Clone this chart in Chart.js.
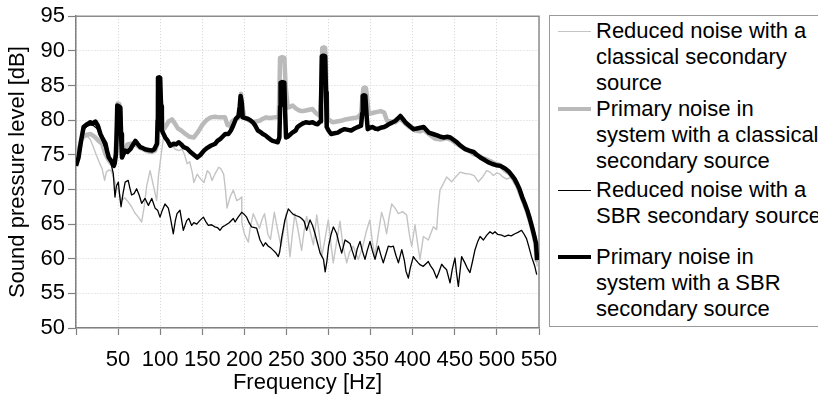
<!DOCTYPE html>
<html>
<head>
<meta charset="utf-8">
<script src="https://cdn.jsdelivr.net/npm/chart.js@4.4.1/dist/chart.umd.min.js"></script>
<style>
  html, body { margin: 0; padding: 0; background: #fff; overflow: hidden; }
  #wrap { position: relative; width: 818px; height: 401px; overflow: hidden; }
  #c { position: absolute; left: 0; top: 0; }
  #legend { position: absolute; left: 549px; top: 15px; width: 300px; height: 312px;
            border: 1px solid #9a9a9a; box-sizing: border-box; background: #fff;
            font-family: "Liberation Sans", Arial, sans-serif; font-size: 22px; color: #000; }
  .entry { position: absolute; left: 0; }
  .swatch { position: absolute; left: 8px; width: 33px; }
  .txt { position: absolute; left: 46px; white-space: nowrap; line-height: 26px; }
</style>
</head>
<body>
<div id="wrap">
  <canvas id="c" width="818" height="401"></canvas>
  <div id="legend"></div>
</div>
<script>
// ---- Data (frequency [Hz], level [dB]) ----
const seriesNames = [
  ["Reduced noise with a", "classical secondary", "source"],
  ["Primary noise in", "system with a classical", "secondary source"],
  ["Reduced noise with a", "SBR secondary source"],
  ["Primary noise in", "system with a SBR", "secondary source"]
];

const xTicks = [0, 50, 100, 150, 200, 250, 300, 350, 400, 450, 500, 550];
const yTicks = [50, 55, 60, 65, 70, 75, 80, 85, 90, 95];

const reducedClassical = [
[0,73.7],[3,75.5],[6,77],[10,77.6],[14,77.6],[17,77.2],[20,76.3],[24,75],[28,73.8],[31,73],[34,71.3],[36,72.5],[39,72.8],[42,72.7],[45,71.5],[48,70.5],[50.3,69.9],[54.3,68.4],[58,68.8],[62,68.2],[66,67.5],[70,66.6],[74,66],[78,65.3],[81,67.5],[84,70.5],[88,72.7],[92,70.5],[95.8,68.4],[98,72],[101.8,75.6],[104,77.5],[107,77.2],[110,76.8],[114,76.3],[118,75.8],[122,75.6],[126,75.8],[129,75],[132,73.7],[135,74],[138,72.5],[140,71],[144,72.2],[148,71.5],[152,71],[156,72.7],[159,72.3],[161.6,71.3],[165,72.2],[169.5,73.2],[172,73],[175.4,72.2],[177.5,70],[179.4,67.3],[183,68.9],[186.9,69.9],[190.9,68.4],[194,68.6],[196.8,68.9],[197,65.2],[200,63.6],[204.7,62.4],[207,64.5],[210.6,66.5],[214,65.5],[218,64.4],[221,65.7],[224,66.5],[228,63.5],[231,62.8],[235.6,66.7],[239,64.5],[243.5,61.8],[246,63.5],[249.5,66.5],[252,63],[254.2,60.3],[257,63.5],[260,66.5],[264,64],[268,61.2],[271,64],[274,66.1],[278,64],[282,62],[286,66.3],[289,63.5],[292,60.3],[296,63],[299.7,65.6],[303,62],[305.6,59.4],[309,62],[313.6,65.4],[317,62],[321.6,59.4],[325,61],[329.4,61.8],[335.3,59.9],[340,61.5],[345,64],[349,65.6],[352,62.5],[355,60.3],[359,63.5],[363,66.7],[366,65.5],[369,63.6],[372,66],[375,67.9],[379,67.3],[383,66.5],[388,66.8],[392.8,66.3],[396,63.5],[398.8,61.8],[402.7,64.9],[406,62],[408.6,59.9],[412.6,63.2],[418.5,62.7],[424.5,64.6],[428.4,64.2],[430,67],[432.4,69.9],[436.3,70.8],[440.3,71.8],[446.2,71.1],[451,71.8],[456.2,72.5],[462,72.3],[468,72.2],[473,72],[478,71.1],[483,71.8],[487.9,72.7],[492,72.5],[495.8,72],[500,72.4],[503.7,72.2],[507,71.8],[511.6,71.5],[516,71.7],[520,71.2],[524,70.5],[530,68.8],[536,66.9],[541.7,64.5],[545,60.5],[547,59.8],[548,58.9]
];

const primaryClassical = [
[0,73.6],[3,75.5],[6,77],[9,77.7],[13,77.9],[17,78],[20,77.8],[23,77.5],[27,77],[31,76.6],[35,75.1],[39,74.2],[42,73.7],[45,73.5],[47,75],[48.5,79],[49.5,82.4],[51.5,82.3],[53,80],[54.6,75],[58,75.8],[61,76.5],[65,76.6],[68,76.5],[72,76.4],[76,76],[80,75.8],[85,75.5],[90,75.4],[94,75.6],[96.5,76.5],[97.5,84],[100,84.3],[101.5,82],[103,78.5],[106,79],[110,79.8],[114,80.1],[117,79.6],[121,78.8],[125,78.5],[130,78],[135,77.6],[140,77.5],[145,78.3],[150,79.3],[155,80],[160,80.4],[165,80.5],[170,80.4],[177,80.4],[180,79.3],[183,79.2],[186,79.9],[190,80.2],[194,80.4],[195,82],[196,83.8],[197.5,82],[200,80.4],[205,80],[210,79.7],[214,79.8],[218,79.9],[222,80.2],[226,80.4],[230,80.3],[235.6,80.4],[240.8,80.4],[241.8,85],[242.4,89],[245,89.1],[247.5,89],[249,85],[251.5,81.8],[254,81.9],[257.4,82.1],[261,81.7],[265.3,81.4],[269,81.3],[273,81.4],[277,81.5],[281,81.6],[285,81],[290,80.6],[291.5,84],[292.5,90.4],[294.5,90.5],[296,90.4],[297.5,85],[299,80.2],[302,79.9],[305,79.7],[310,79.8],[315,79.9],[320,80.1],[325,80.2],[330,80.3],[334.6,80.4],[338.6,80.9],[340,83],[341.4,84.6],[343,84.7],[344.5,84.6],[346,83],[347.7,80.9],[351,81],[354.4,81.1],[358,81.2],[362,81.3],[366,81.1],[369.5,79.9],[374,79.8],[379.3,79.7],[384,80.2],[388,79.9],[391,79.5],[396,79],[403,78.5],[409,78.4],[413,78.6],[419,78],[427,77.3],[433,77.2],[440,77.4],[445,77.2],[452,76.6],[457,76.2],[462.5,75.8],[467,75.6],[472,75.1],[478,74.9],[483,74.5],[486,74.4],[492,74.1],[498,73.7],[504,73.5],[510,72.7],[515,72.3],[518,71.8],[524,70.6],[530,68.7],[536,66.8],[541.7,64.4],[546.5,62],[547.7,59.5]
];

const reducedSBR = [
[0,73.4],[3,74.5],[6,76.8],[9,78.6],[13,79.1],[17,79.3],[21,79.2],[25,78.8],[29,77.8],[33,76.4],[37,75.2],[40,74.2],[42,73.5],[44.3,72.3],[46.3,68.9],[48,70.5],[50.3,71.05],[52,69],[53.5,67.5],[56,69.5],[58.4,71.05],[62,71.3],[64,70.2],[66,69.2],[69,69.4],[72,70.1],[75,69.2],[78,68],[82,68.7],[86,67.7],[90,68.7],[94,67.3],[97,67],[99.8,66],[102,66.8],[105.7,67.9],[109.7,67.3],[112,66],[115.6,63.6],[118,65.5],[120,66.5],[123.5,67],[127.5,64.1],[131.5,65.5],[134,65.8],[137.4,64.8],[140,65.2],[143.4,65],[147,65.5],[151.3,66],[154,65.4],[157.2,64.8],[161,64.9],[165,64.6],[168,64.5],[171,64.1],[174,64.6],[177,64.8],[182,65.2],[186.9,65.8],[189,65.3],[192,65.9],[196.8,66.7],[199,66.5],[202.7,66],[205.6,65.2],[208.6,64.6],[214.6,64.4],[218.6,62.7],[222.5,61.8],[225,62.3],[228.5,61.8],[231,61.6],[234.4,61.2],[237,60.9],[240.3,60.3],[242,61],[244.3,63],[248,65.5],[252.2,67.2],[255,66.8],[258,66.4],[262,66.2],[266,66],[268,65.8],[271,65.4],[274,64.1],[278,65.6],[281,64.8],[284,63.6],[287,62.2],[290,60.8],[294,59.9],[296,58.1],[298,59.6],[300,61.8],[303,63.5],[305.7,64.6],[309.7,63.6],[312,62.4],[315.6,60.8],[319.6,62.7],[322,62.5],[325.5,62.2],[328,61.2],[331.5,59.9],[334,61.4],[337.4,62.5],[340,61.2],[343.3,59.9],[346,61.2],[349.3,62.5],[352,61.2],[355.2,59.9],[359.2,61.8],[362,60.6],[365,59.4],[368,60.6],[371,61.8],[374,61.7],[377,61.8],[380,60.5],[383,59.4],[387,61.3],[390,59.8],[392,58.2],[394.8,57.2],[397,58.6],[400.7,60.3],[403,59.9],[406.6,59.4],[409,59.1],[412.6,58.9],[418.5,59.6],[421,59],[424.5,58.4],[428.4,57.2],[431,58],[434.4,59.2],[437,58.8],[440.3,58.4],[444.3,56.5],[447,58.5],[450.2,60.1],[452,58],[454.2,56],[456,58],[458.1,60.3],[462,59.4],[465,58.6],[468,58],[471,59.6],[474,61.3],[477,62.4],[480,63.2],[484,62.7],[488,63.4],[491.8,63.9],[495,63.6],[497.7,63.9],[501,63.5],[505.6,63.4],[509,63.2],[513.5,63.4],[517,63.3],[521.4,63.6],[525,63.8],[529.3,64.1],[532,63.6],[535.2,62.9],[538,61.7],[541.1,60.3],[545,58.9],[547.3,57.7]
];

const primarySBR = [
[0,73.4],[3,74.6],[6,77],[9,79],[13,79.4],[17,79.7],[20,79.5],[23,79.8],[26,79.2],[29,78],[31,77.5],[35,76.6],[37,75.5],[39,74.6],[43,73.9],[45,73.4],[46,73.8],[47.5,75.1],[48.5,79],[49,82.1],[51,82],[52.7,81.8],[53.5,78],[54.6,74.6],[56,75],[58.6,75.6],[61,75.4],[64.5,75.8],[67,76.3],[70.5,77],[73,76.6],[76.4,76.1],[79,76],[82,75.8],[86,75.7],[90.3,75.6],[93,75.8],[96.2,76.6],[97,80],[97.4,86.1],[99,86.2],[100,86.1],[101,82],[102,78.5],[104,78],[106,77.5],[109,77],[112,76.3],[116,76.6],[119,76.5],[122,76.8],[125,76.5],[128,76.1],[132,75.9],[136,75.4],[140,75],[144,74.6],[148,75],[152,75.6],[156,76],[160,76.3],[165.5,76.6],[168,77],[171.5,77.3],[174,77.6],[177.4,78],[181,78],[184,78.5],[187,79.3],[190,80.2],[193,80.6],[194.5,82],[195.5,83.5],[197,82.5],[198,80.4],[201,80.3],[204,80.2],[207,80],[210,79.7],[213,79.2],[216,78.5],[219,78.3],[222,78],[225,77.8],[228,77.5],[231,77.2],[233.6,77],[237,76.9],[239.6,76.8],[241.6,77.5],[242.5,82],[243,85.4],[245,85.5],[247.5,85.4],[248.5,81],[249.5,77.5],[251.5,77.6],[253.4,77.8],[257,78.2],[261,78.5],[263,79],[265.3,79.2],[269,79.5],[273,79.7],[277,79.6],[281,79.7],[284,79.5],[287,79.4],[290,79.8],[291,82],[292,89.2],[294,89.3],[296,89.2],[297,84],[297.8,79],[300,78.5],[303,78],[307,78.1],[311,78.2],[315,78.5],[319,78.7],[323,78.6],[327,78.5],[331,78.8],[334.6,79],[338.6,79.2],[340,81],[340.6,83.5],[342,83.6],[343.7,83.5],[345,81],[346.5,78.7],[349,78.9],[352.5,79],[355,78.8],[358.4,78.7],[362,78.9],[366,79],[369,79.2],[371.4,79.4],[375,79.6],[379.3,79.9],[382,80.2],[385.3,80.6],[388,80.2],[391.2,79.7],[396,79.2],[401,78.7],[405,78.8],[409,78.9],[413,79],[416,78.6],[419,78.2],[424,78],[429,77.8],[433,77.6],[437,77.5],[441,77.6],[444.7,77.5],[448,77.2],[452.6,76.8],[457,76.3],[462.5,75.8],[467,75.6],[472.4,75.4],[476,75],[480.3,74.6],[486,74.2],[490,73.9],[494,73.7],[499,73.5],[504,73.4],[507,73.2],[510,73],[514,72.6],[518,72],[521,71.5],[524,70.8],[527,70],[530,68.9],[533,68],[536,67],[539,65.8],[541.7,64.6],[544,63.5],[546.5,62.2],[547.7,59.8]
];

// ---- Styles ----
const styles = [
  { color: '#c4c4c4', width: 1.4, order: 3 },
  { color: '#bababa', width: 4.5, order: 2 },
  { color: '#000000', width: 1.3, order: 1 },
  { color: '#000000', width: 4.5, order: 0 }
];
const allSeries = [reducedClassical, primaryClassical, reducedSBR, primarySBR];

const FONT = '"Liberation Sans", Arial, sans-serif';

const frameBorder = {
  id: 'frameBorder',
  beforeDatasetsDraw(chart) {
    const { ctx, chartArea: { left, top, right, bottom } } = chart;
    ctx.save();
    ctx.strokeStyle = '#8c8c8c';
    ctx.lineWidth = 1.5;
    ctx.beginPath();
    ctx.moveTo(left, top);
    ctx.lineTo(right, top);
    ctx.lineTo(right, bottom);
    ctx.stroke();
    ctx.restore();
  }
};

new Chart(document.getElementById('c'), {
  type: 'line',
  data: {
    datasets: allSeries.map((s, i) => ({
      label: seriesNames[i].join(' '),
      data: s.map(p => ({ x: p[0], y: p[1] })),
      borderColor: styles[i].color,
      borderWidth: styles[i].width,
      order: styles[i].order,
      pointRadius: 0,
      tension: 0,
      fill: false,
      borderJoinStyle: 'round',
      borderCapStyle: 'butt'
    }))
  },
  options: {
    responsive: false,
    animation: false,
    layout: { padding: { left: 0, right: 279, top: 15, bottom: 0 } },
    plugins: { legend: { display: false }, tooltip: { enabled: false } },
    scales: {
      x: {
        type: 'linear',
        min: 0, max: 550,
        afterFit: (s) => { s.height = 73; },
        afterBuildTicks: (s) => { s.ticks = xTicks.map(v => ({ value: v })); },
        ticks: {
          autoSkip: false, maxRotation: 0, minRotation: 0,
          padding: 12, color: '#000',
          font: { family: FONT, size: 22 },
          callback: (v) => (v === 0 ? '' : String(v))
        },
        grid: {
          color: '#d2d2d2', lineWidth: 1, tickLength: 7,
          tickColor: '#808080', tickWidth: 1.2, tickBorderDash: []
        },
        border: { color: '#808080', width: 1.5, dash: [1, 2] },
        title: {
          display: true, text: 'Frequency [Hz]', color: '#000',
          font: { family: FONT, size: 22 }, padding: { top: 0, bottom: 5 }
        }
      },
      y: {
        min: 50, max: 95,
        afterFit: (s) => { s.width = 76; },
        afterBuildTicks: (s) => { s.ticks = yTicks.map(v => ({ value: v })); },
        ticks: {
          padding: 3, color: '#000',
          font: { family: FONT, size: 22 }
        },
        grid: {
          color: '#d2d2d2', lineWidth: 1, tickLength: 8,
          tickColor: '#808080', tickWidth: 1.2, tickBorderDash: []
        },
        border: { color: '#808080', width: 1.5, dash: [1, 2] },
        title: {
          display: true, text: 'Sound pressure level [dB]', color: '#000',
          font: { family: FONT, size: 22 }, padding: { top: 5, bottom: 0 }
        }
      }
    }
  },
  plugins: [frameBorder]
});

// ---- HTML legend ----
const legendCenters = [31, 109, 190, 257]; // first-line centres (page y)
const legend = document.getElementById('legend');
seriesNames.forEach((lines, i) => {
  const top = legendCenters[i] - 15 - 1; // relative to legend box (top 15 + border 1)
  const e = document.createElement('div');
  e.className = 'entry';
  e.style.top = top + 'px';
  const sw = document.createElement('div');
  sw.className = 'swatch';
  const h = Math.max(1, Math.round(styles[i].width * 0.9));
  sw.style.height = h + 'px';
  sw.style.top = (-h / 2) + 'px';
  sw.style.background = styles[i].color;
  const t = document.createElement('div');
  t.className = 'txt';
  t.style.top = '-13px';
  t.innerHTML = lines.join('<br>');
  e.appendChild(sw);
  e.appendChild(t);
  legend.appendChild(e);
});
</script>
</body>
</html>
